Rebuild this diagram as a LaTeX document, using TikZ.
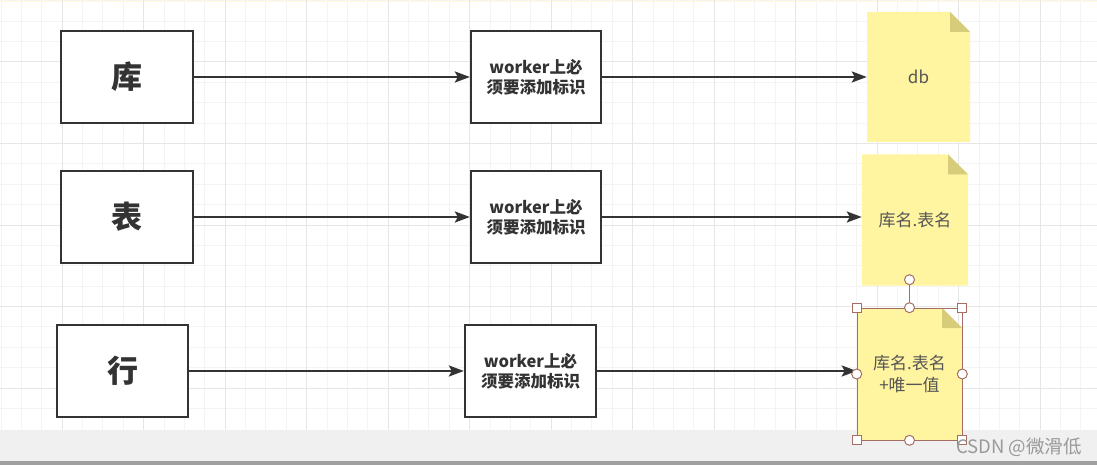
\documentclass[tikz,border=0pt]{standalone}
\usepackage{fontspec}
\setmainfont{Noto Sans CJK SC}
\usepackage{tikz}
\usetikzlibrary{arrows.meta,positioning}
\definecolor{minorgrid}{RGB}{244,244,244}
\definecolor{majorgrid}{RGB}{230,230,230}
\definecolor{boxline}{RGB}{51,51,51}
\definecolor{notefill}{RGB}{255,245,160}
\definecolor{notefold}{RGB}{214,204,122}
\definecolor{notetext}{RGB}{85,85,85}
\definecolor{handle}{RGB}{165,110,100}
\definecolor{barfill}{RGB}{240,240,240}
\definecolor{bardark}{RGB}{160,160,160}
\tikzstyle{levelbox} = [draw=boxline, fill=white, line width=2.3pt, rectangle,
    minimum width=132pt, minimum height=92pt, font=\fontsize{31}{33}\selectfont\bfseries, text=boxline]
\tikzstyle{workerbox} = [draw=boxline, fill=white, line width=2.3pt, rectangle,
    minimum width=130pt, minimum height=92pt, align=center,
    font=\fontsize{16.5}{20}\selectfont\bfseries, text=boxline]
\tikzstyle{note} = [rectangle, align=center, text=notetext,
    font=\fontsize{17}{22}\selectfont,
    path picture={
        \fill[notefill] (path picture bounding box.south west)
            |- ([xshift=-20pt]path picture bounding box.north east)
            -- ([yshift=-20pt]path picture bounding box.north east)
            |- cycle;
        \fill[notefold] ([xshift=-20pt]path picture bounding box.north east)
            -- ([xshift=-20pt,yshift=-20pt]path picture bounding box.north east)
            -- ([yshift=-20pt]path picture bounding box.north east) -- cycle;
    }]
\tikzstyle{flow} = [draw=boxline, line width=2.3pt,
    -{Stealth[length=15pt,width=11pt,inset=3pt]}]
\tikzstyle{sqhandle} = [draw=handle, fill=white, line width=1pt, rectangle,
    minimum size=9pt, inner sep=0pt]
\tikzstyle{cirhandle} = [draw=handle, fill=white, line width=1pt, circle,
    minimum size=10pt, inner sep=0pt]
\begin{document}
\begin{tikzpicture}[x=1pt,y=-1pt]
    \useasboundingbox (0,0) rectangle (1097,465);
    \fill[white] (0,0) rectangle (1097,465);
    \fill[notefill!40] (0,0) rectangle (1097,2);
    % grid
    \foreach \i in {0,...,55} {
        \draw[minorgrid, line width=1pt] ({-19.3+20.375*\i},0) -- ++(0,430);
    }
    \foreach \j in {1,...,21} {
        \draw[minorgrid, line width=1pt] (0,{-19.5+20.375*\j}) -- ++(1097,0);
    }
    \foreach \i in {0,...,14} {
        \draw[majorgrid, line width=1pt] ({-19.3+81.5*\i},0) -- ++(0,430);
    }
    \foreach \j in {1,...,5} {
        \draw[majorgrid, line width=1pt] (0,{-19.5+81.5*\j}) -- ++(1097,0);
    }
    % bottom bar
    \fill[barfill] (0,430) rectangle (1097,461);
    \fill[bardark] (0,461) rectangle (1097,465);

    % row 1
    \node[levelbox] (ku) at (127,77) {库};
    \node[workerbox] (worker1) at (536,77) {worker上必\\须要添加标识};
    \node[note, minimum width=103pt, minimum height=130pt] (db) at (918.5,77) {db};
    % row 2
    \node[levelbox] (biao) at (127,217) {表};
    \node[workerbox] (worker2) at (536,217) {worker上必\\须要添加标识};
    \node[note, minimum width=106pt, minimum height=131pt] (tablename) at (915,220) {库名.表名};
    % row 3
    \node[levelbox, minimum width=131pt] (hang) at (122.5,371) {行};
    \node[workerbox, minimum width=131pt] (worker3) at (530.5,371) {worker上必\\须要添加标识};
    \node[note, minimum width=105pt, minimum height=132pt, draw=handle, line width=0.6pt]
        (rowkey) at (909.5,374) {库名.表名\\+唯一值};

    \draw[flow] (ku) -- (worker1);
    \draw[flow] (worker1) -- (db);
    \draw[flow] (biao) -- (worker2);
    \draw[flow] (worker2) -- (tablename.west |- worker2.east);
    \draw[flow] (hang) -- (worker3);
    \draw[flow] (worker3) -- (rowkey.west |- worker3.east);

    % selection handles
    \node[cirhandle] (rotate) at ([yshift=28pt]rowkey.north) {};
    \draw[handle, line width=1.2pt] (rotate) -- (rowkey.north);
    \foreach \a in {north west,north east,south west,south east} {
        \node[sqhandle] at (rowkey.\a) {};
    }
    \foreach \a in {north,south,east,west} {
        \node[cirhandle] at (rowkey.\a) {};
    }

    % watermark
    \node[text=black!40, font=\fontsize{18.5}{20}\selectfont] (mark) at (1019,447) {CSDN @微滑低};
\end{tikzpicture}
\end{document}
